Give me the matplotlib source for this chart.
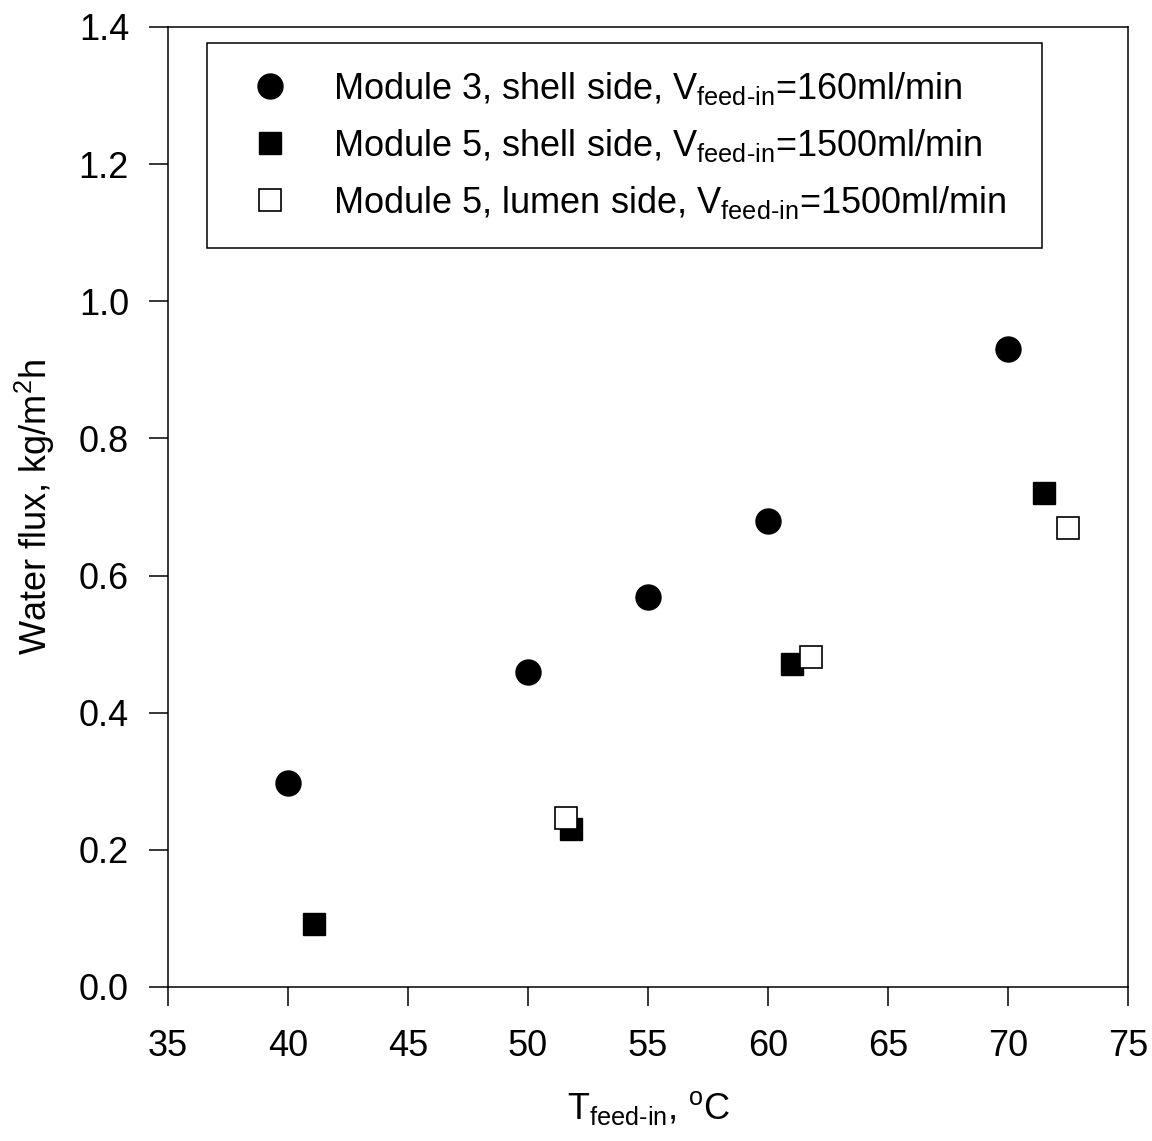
"""
Water flux vs feed-in temperature, modules 3 and 5
"""
import numpy as np
import matplotlib
matplotlib.use("Agg")
import matplotlib.pyplot as plt

plt.rcParams['font.family'] = ['Liberation Sans', 'DejaVu Sans']
plt.rcParams['mathtext.fontset'] = 'custom'
plt.rcParams['mathtext.rm'] = 'Liberation Sans'
plt.rcParams['mathtext.it'] = 'Liberation Sans'
plt.rcParams['mathtext.default'] = 'regular'

# module 3, shell side, 160 ml/min
t_m3_shell = [40.0, 50.0, 55.0, 60.0, 70.0]
flux_m3_shell = [0.298, 0.460, 0.569, 0.679, 0.931]

# module 5, shell side, 1500 ml/min
t_m5_shell = [41.1, 51.8, 61.0, 71.5]
flux_m5_shell = [0.092, 0.230, 0.471, 0.721]

# module 5, lumen side, 1500 ml/min
t_m5_lumen = [51.6, 61.8, 72.5]
flux_m5_lumen = [0.246, 0.481, 0.669]

labels = ["Module 3, shell side, V$_{feed\u2010in}$=160ml/min",
          "Module 5, shell side, V$_{feed\u2010in}$=1500ml/min",
          "Module 5, lumen side, V$_{feed\u2010in}$=1500ml/min"]

fig = plt.figure(figsize=(11.52, 11.41), dpi=100)
ax = fig.add_axes([168/1152, 1-987/1141, 960/1152, 960/1141])

ax.plot(t_m3_shell, flux_m3_shell, 'o', color='black', markersize=18, label=labels[0])
ax.plot(t_m5_shell, flux_m5_shell, 's', color='black', markersize=16, label=labels[1])
ax.plot(t_m5_lumen, flux_m5_lumen, 's', markerfacecolor='white', markeredgecolor='black',
        markeredgewidth=1.2, markersize=16, label=labels[2])

ax.set_xlim(35, 75)
ax.set_ylim(0, 1.4)
ax.set_xticks(np.arange(35, 76, 5))
ax.set_yticks(np.arange(0, 1.41, 0.2))
ax.set_yticklabels([f"{v:.1f}" for v in np.arange(0, 1.41, 0.2)])
for s in ax.spines.values():
    s.set_linewidth(1.1)
ax.tick_params(direction='out', length=14, width=1.1, labelsize=26, pad=14)
ax.tick_params(axis='x', pad=16)

ax.set_xlabel("T$_{feed\u2010in}$, $^o$C", fontsize=26, labelpad=18)
ax.set_ylabel("Water flux, kg/m$^2$h", fontsize=26, labelpad=16)

leg = ax.legend(loc='upper left', bbox_to_anchor=(0.0406, 0.9833, 0.870, 0.0),
                mode='expand', fontsize=26, fancybox=False, edgecolor='black',
                framealpha=1, borderaxespad=0, handletextpad=0.75, labelspacing=0.55,
                borderpad=0.75, handlelength=2.0)
leg.get_frame().set_linewidth(1.1)

plt.savefig("out.png", dpi=100)
